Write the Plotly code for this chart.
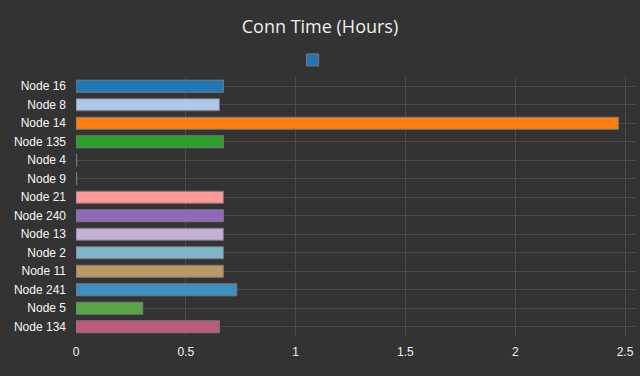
import plotly.graph_objects as go

nodes = ["Node 16", "Node 8", "Node 14", "Node 135", "Node 4", "Node 9", "Node 21",
         "Node 240", "Node 13", "Node 2", "Node 11", "Node 241", "Node 5", "Node 134"]
hours = [0.671, 0.653, 2.47, 0.671, 0.003, 0.003, 0.671,
         0.671, 0.671, 0.671, 0.671, 0.732, 0.304, 0.653]
colors = ["#1f77b4", "#aec7e8", "#ff7f0e", "#2ca02c", "#ffbb78", "#98df8a", "#ff9896",
          "#9467bd", "#c5b0d5", "#7fb4c9", "#b89a62", "#3d8fbf", "#57a544", "#bd5b7c"]
x_ticks = [0, 0.5, 1, 1.5, 2, 2.5]

fig = go.Figure()
fig.add_trace(go.Bar(
    y=nodes, x=hours, orientation="h", name="",
    marker=dict(color=colors, line=dict(color="#7a7a7a", width=1)),
    showlegend=True,
))

fig.update_layout(
    width=640, height=376,
    paper_bgcolor="#333333", plot_bgcolor="#333333",
    margin=dict(l=76, r=4, t=77, b=40, autoexpand=False),
    title=dict(text="Conn Time (Hours)", x=0.5, xanchor="center", y=0.93, yanchor="middle",
               font=dict(family="Open Sans", size=18, color="#eeeeee")),
    legend=dict(orientation="h", x=0.427, xanchor="center",
                y=1.01, yanchor="bottom",
                font=dict(color="#eeeeee", size=12), itemwidth=30),
    bargap=0.35,
    font=dict(family="Liberation Sans", color="#eeeeee"),
)
fig.update_xaxes(range=[0, 2.55], tickvals=x_ticks, ticktext=[str(v) for v in x_ticks],
                 showgrid=True, gridcolor="#4c4c4c", zeroline=False,
                 tickfont=dict(size=12, color="#f4f4f4"), ticks="", showline=False,
                 ticklabelstandoff=7)
fig.update_yaxes(autorange="reversed", showgrid=True, gridcolor="#4c4c4c",
                 tickfont=dict(size=12, color="#f8f8f8", family="Liberation Sans"),
                 ticks="", ticklabelstandoff=9)
fig.write_html("out.html", config={"displayModeBar": False},
               post_script="document.body.style.margin='0';")
